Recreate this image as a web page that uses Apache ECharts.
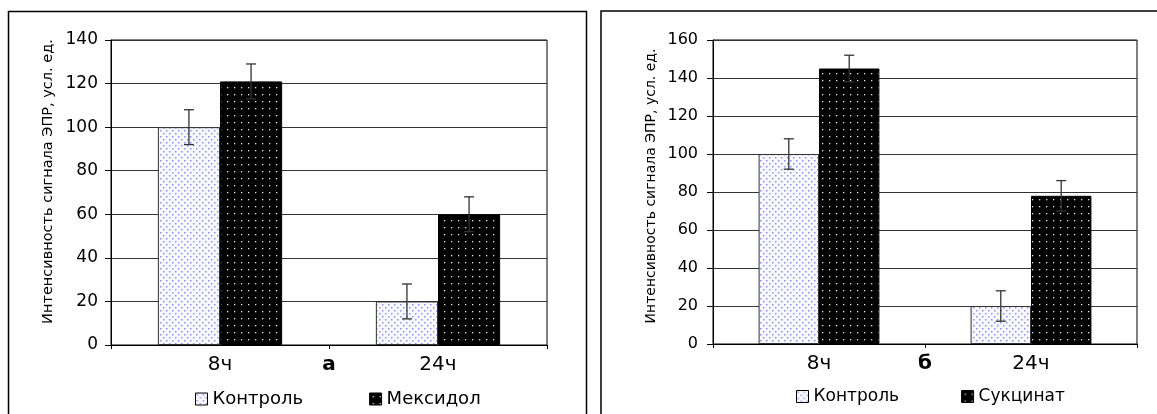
<!DOCTYPE html>
<html>
<head>
<meta charset="utf-8">
<script src="https://cdn.jsdelivr.net/npm/echarts@6/dist/echarts.min.js"></script>
<style>
  html, body { margin: 0; padding: 0; background: #fff; }
  #chart { width: 1157px; height: 414px; }
</style>
</head>
<body>
<div id="chart"></div>
<script>
// ---- data ----
const categories = ['8ч', '24ч'];
const panelLabels = ['а', 'б'];
const yMaxA = 140;
const yMaxB = 160;
const yStep = 20;

const seriesNamesA = ['Контроль', 'Мексидол'];
const controlA = [100, 20];
const controlAErr = [8, 8];
const mexidolA = [121, 60];
const mexidolAErr = [8, 8];

const seriesNamesB = ['Контроль', 'Сукцинат'];
const controlB = [100, 20];
const controlBErr = [8, 8];
const succinateB = [145, 78];
const succinateBErr = [7, 8];

const yTitle = 'Интенсивность сигнала ЭПР, усл. ед.';

// ---- patterns ----
function makePattern(w, h, bg, dot, pts, size) {
  const c = document.createElement('canvas');
  c.width = w; c.height = h;
  const ctx = c.getContext('2d');
  ctx.fillStyle = bg; ctx.fillRect(0, 0, w, h);
  ctx.fillStyle = dot;
  pts.forEach(p => ctx.fillRect(p[0], p[1], size, size));
  return { image: c, repeat: 'repeat' };
}
const lightPattern = makePattern(6, 6, '#f8f8ff', '#9090ec', [[1, 1], [4, 4]], 1.5);
const darkPattern = makePattern(7, 7, '#000000', '#e6e6e6', [[3, 3]], 1.3);

const FONT = 'DejaVu Sans';
const GAP = 0.43;

function errData(vals, errs) {
  return vals.map((v, i) => [i, v, errs[i]]);
}
function errRender(side) {
  return function (params, api) {
    const idx = api.value(0);
    const v = api.value(1);
    const e = api.value(2);
    const band = api.size([1, 0])[0];
    const bw = band * (1 - GAP) / 2;
    const c = api.coord([idx, v]);
    const x = c[0] + side * bw / 2;
    const top = api.coord([idx, v + e])[1];
    const bot = api.coord([idx, v - e])[1];
    const cap = 5;
    const st = { stroke: '#333', lineWidth: 1.3, fill: null };
    return {
      type: 'group',
      children: [
        { type: 'line', shape: { x1: x, y1: top, x2: x, y2: bot }, style: st },
        { type: 'line', shape: { x1: x - cap, y1: top, x2: x + cap, y2: top }, style: st },
        { type: 'line', shape: { x1: x - cap, y1: bot, x2: x + cap, y2: bot }, style: st }
      ]
    };
  };
}

function xAxisCfg(gridIndex, label) {
  return {
    type: 'category', gridIndex, data: categories, boundaryGap: true,
    axisLine: { lineStyle: { color: '#000', width: 1 } },
    axisTick: { show: true, length: 4, lineStyle: { color: '#000' } },
    axisLabel: { color: '#000', fontFamily: FONT, fontSize: 20, margin: 10 },
    name: label, nameLocation: 'middle', nameGap: 10, nameMoveOverlap: false,
    nameTextStyle: { color: '#000', fontFamily: FONT, fontSize: 20, fontWeight: 'bold', verticalAlign: 'top' },
    splitLine: { show: false }
  };
}
function yAxisCfg(gridIndex, max, fs, margin, nameFs, shift) {
  return {
    type: 'value', gridIndex, min: 0, max, interval: yStep,
    axisLine: { show: true, lineStyle: { color: '#000', width: 1 } },
    axisTick: { show: true, length: 6, lineStyle: { color: '#000' } },
    axisLabel: { color: '#000', fontFamily: FONT, fontSize: fs, margin },
    splitLine: { show: true, lineStyle: { color: '#333', width: 1 } },
    name: yTitle, nameLocation: 'middle', nameGap: 55, nameRotate: 90, nameMoveOverlap: false,
    nameTextStyle: { color: '#000', fontFamily: FONT, fontSize: nameFs, padding: [0, 0, 0, shift] }
  };
}

const option = {
  animation: false,
  backgroundColor: '#fff',
  grid: [
    { left: 111, top: 40, width: 436, height: 305, show: true, borderColor: '#000', borderWidth: 1, backgroundColor: 'transparent' },
    { left: 713, top: 40, width: 424, height: 304, show: true, borderColor: '#000', borderWidth: 1, backgroundColor: 'transparent' }
  ],
  xAxis: [xAxisCfg(0, panelLabels[0]), xAxisCfg(1, panelLabels[1])],
  yAxis: [yAxisCfg(0, yMaxA, 17, 13, 14.5, 22), yAxisCfg(1, yMaxB, 16, 15, 14, 12)],
  legend: [
    {
      data: seriesNamesA, left: 190, top: 385, itemWidth: 12, itemHeight: 12, itemGap: 66,
      icon: 'rect',
      itemStyle: { borderColor: '#000', borderWidth: 1 },
      textStyle: { color: '#000', fontFamily: FONT, fontSize: 18 }
    },
    {
      data: seriesNamesB, left: 791, top: 383, itemWidth: 12, itemHeight: 12, itemGap: 62,
      icon: 'rect',
      itemStyle: { borderColor: '#000', borderWidth: 1 },
      textStyle: { color: '#000', fontFamily: FONT, fontSize: 17 }
    }
  ],
  graphic: [
    { type: 'rect', shape: { x: 8.5, y: 11.5, width: 578, height: 430 }, style: { fill: 'none', stroke: '#000', lineWidth: 1.5 }, silent: true },
    { type: 'rect', shape: { x: 601, y: 11, width: 600, height: 430 }, style: { fill: 'none', stroke: '#000', lineWidth: 1.5 }, silent: true }
  ],
  series: [
    { name: seriesNamesA[0], type: 'bar', xAxisIndex: 0, yAxisIndex: 0, data: controlA,
      barGap: '0%', barCategoryGap: (GAP * 100) + '%',
      itemStyle: { color: lightPattern, borderColor: '#333', borderWidth: 1 } },
    { name: seriesNamesA[1], type: 'bar', xAxisIndex: 0, yAxisIndex: 0, data: mexidolA,
      barGap: '0%', barCategoryGap: (GAP * 100) + '%',
      itemStyle: { color: darkPattern, borderColor: '#000', borderWidth: 1 } },
    { name: 'errA0', type: 'custom', xAxisIndex: 0, yAxisIndex: 0, z: 5,
      data: errData(controlA, controlAErr), renderItem: errRender(-1), encode: { x: 0, y: 1 } },
    { name: 'errA1', type: 'custom', xAxisIndex: 0, yAxisIndex: 0, z: 5,
      data: errData(mexidolA, mexidolAErr), renderItem: errRender(1), encode: { x: 0, y: 1 } },

    { name: seriesNamesB[0], type: 'bar', xAxisIndex: 1, yAxisIndex: 1, data: controlB,
      barGap: '0%', barCategoryGap: (GAP * 100) + '%',
      itemStyle: { color: lightPattern, borderColor: '#333', borderWidth: 1 } },
    { name: seriesNamesB[1], type: 'bar', xAxisIndex: 1, yAxisIndex: 1, data: succinateB,
      barGap: '0%', barCategoryGap: (GAP * 100) + '%',
      itemStyle: { color: darkPattern, borderColor: '#000', borderWidth: 1 } },
    { name: 'errB0', type: 'custom', xAxisIndex: 1, yAxisIndex: 1, z: 5,
      data: errData(controlB, controlBErr), renderItem: errRender(-1), encode: { x: 0, y: 1 } },
    { name: 'errB1', type: 'custom', xAxisIndex: 1, yAxisIndex: 1, z: 5,
      data: errData(succinateB, succinateBErr), renderItem: errRender(1), encode: { x: 0, y: 1 } }
  ]
};

const chart = echarts.init(document.getElementById('chart'), null, { renderer: 'canvas' });
chart.setOption(option);
</script>
</body>
</html>
